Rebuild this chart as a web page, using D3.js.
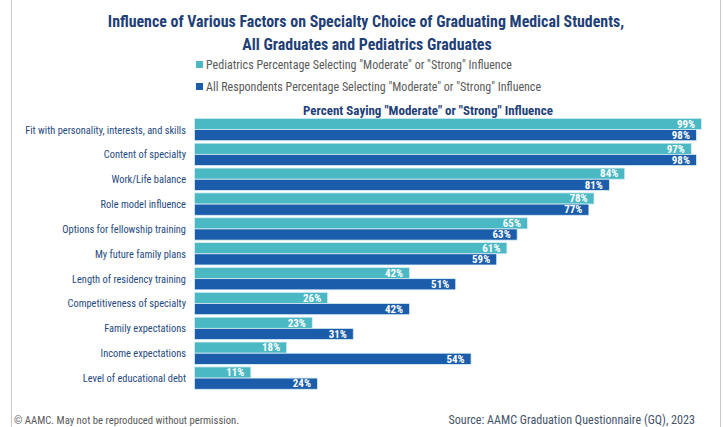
<!DOCTYPE html>
<html>
<head>
<meta charset="utf-8">
<script src="https://cdn.jsdelivr.net/npm/d3@7"></script>
<style>
  body { margin: 0; background: #fff; }
  svg { display: block; font-family: "Liberation Sans Narrow", "Arial Narrow", "Roboto Condensed", "Open Sans", sans-serif; }
</style>
</head>
<body>
<svg width="723" height="427"></svg>
<script>
var categories = [
    "Fit with personality, interests, and skills",
    "Content of specialty",
    "Work/Life balance",
    "Role model influence",
    "Options for fellowship training",
    "My future family plans",
    "Length of residency training",
    "Competitiveness of specialty",
    "Family expectations",
    "Income expectations",
    "Level of educational debt"
];
var pediatrics = [99, 97, 84, 78, 65, 61, 42, 26, 23, 18, 11];
var allRespondents = [98, 98, 81, 77, 63, 59, 51, 42, 31, 54, 24];
var seriesNames = [
    'Pediatrics Percentage Selecting "Moderate" or "Strong" Influence',
    'All Respondents Percentage Selecting "Moderate" or "Strong" Influence'
];
var colors = ["#4BB9C4", "#1B5DAB"];

var svg = d3.select("svg"),
    width = +svg.attr("width"),
    height = +svg.attr("height");

var navy = "#1F3F77";

// frame lines
svg.append("line").attr("x1", 11.5).attr("x2", 11.5).attr("y1", 0).attr("y2", height)
    .attr("stroke", "#C8C8C8");
svg.append("line").attr("x1", 720.5).attr("x2", 720.5).attr("y1", 0).attr("y2", height)
    .attr("stroke", "#C8C8C8");

// title
var title = svg.append("text").attr("text-anchor", "middle")
    .attr("fill", navy).attr("font-weight", "bold").attr("font-size", 15.9);
title.append("tspan").attr("x", 366).attr("y", 27)
    .text("Influence of Various Factors on Specialty Choice of Graduating Medical Students,");
title.append("tspan").attr("x", 367).attr("y", 50)
    .text("All Graduates and Pediatrics Graduates");

// legend
var legend = svg.selectAll(".legend").data(seriesNames).enter().append("g")
    .attr("transform", (d, i) => "translate(196," + (61 + i * 22) + ")");
legend.append("rect").attr("width", 7).attr("height", 7).attr("fill", (d, i) => colors[i]);
legend.append("text").attr("x", 10).attr("y", 7.5)
    .attr("font-size", 12).attr("fill", "#595959").text(d => d);

// subtitle
svg.append("text").attr("x", 428).attr("y", 115).attr("text-anchor", "middle")
    .attr("fill", navy).attr("font-weight", "bold").attr("font-size", 13)
    .text('Percent Saying "Moderate" or "Strong" Influence');

/*=====================================================================================================
                                         Bars
======================================================================================================*/
var x = d3.scaleLinear().domain([0, 100]).range([194.5, 706.7]);
var y = d3.scaleBand().domain(categories).range([117.1, 390.5])
    .paddingInner(0.1).paddingOuter(0.05);
var sub = d3.scaleBand().domain([0, 1]).range([0, y.bandwidth()]);

var rows = categories.map((c, i) => ({ cat: c, vals: [pediatrics[i], allRespondents[i]] }));

var row = svg.selectAll(".row").data(rows).enter().append("g")
    .attr("transform", d => "translate(0," + y(d.cat) + ")");

row.append("text").attr("x", 186).attr("y", y.bandwidth() / 2 + 4)
    .attr("text-anchor", "end").attr("font-size", 10.4).attr("fill", "#1F4A7E")
    .text(d => d.cat);

var bar = row.selectAll(".bar").data(d => d.vals).enter().append("g");
bar.append("rect")
    .attr("x", x(0))
    .attr("y", (d, i) => sub(i))
    .attr("width", d => x(d) - x(0))
    .attr("height", sub.bandwidth())
    .attr("fill", (d, i) => colors[i])
    .attr("stroke", "#D9EEF4").attr("stroke-width", 0.8);
bar.append("text")
    .attr("x", d => x(d) - 6.5)
    .attr("y", (d, i) => sub(i) + sub.bandwidth() / 2 + 3.8)
    .attr("text-anchor", "end").attr("font-size", 11).attr("font-weight", "bold")
    .attr("fill", "#fff")
    .text(d => d + "%");

// footer
svg.append("text").attr("x", 14).attr("y", 424).attr("font-size", 10.7).attr("fill", "#595959")
    .text("\u00A9 AAMC. May not be reproduced without permission.");
svg.append("text").attr("x", 695).attr("y", 424).attr("text-anchor", "end")
    .attr("font-size", 12.1).attr("fill", "#44546A")
    .text("Source: AAMC Graduation Questionnaire (GQ), 2023");
</script>
</body>
</html>
